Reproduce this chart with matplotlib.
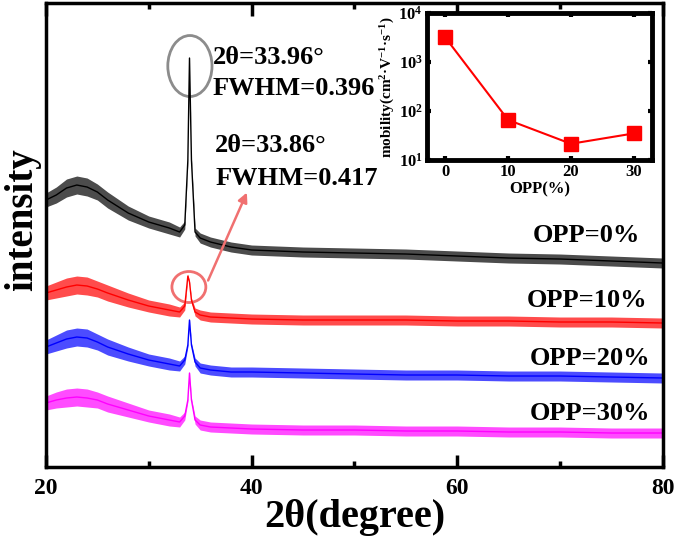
import matplotlib
matplotlib.use("Agg")
import matplotlib.pyplot as plt
from matplotlib.patches import Ellipse
from matplotlib.ticker import FixedLocator, FixedFormatter, NullLocator, NullFormatter
import numpy as np

plt.rcParams['font.family'] = ['Liberation Serif', 'DejaVu Serif']
plt.rcParams['font.weight'] = 'bold'
plt.rcParams['mathtext.fontset'] = 'custom'
plt.rcParams['mathtext.rm'] = 'Liberation Serif:bold'
plt.rcParams['mathtext.bf'] = 'Liberation Serif:bold'
plt.rcParams['mathtext.it'] = 'Liberation Serif:bold:italic'

# ---------------- data ----------------
two_theta = [20, 21, 22, 23, 24, 25, 26, 28, 30, 32, 33, 33.5, 33.8, 33.96, 34.15,
             34.5, 35, 36, 38, 40, 45, 50, 55, 60, 65, 70, 75, 80]
opp0 = [267, 272, 279, 282, 280, 275, 267, 254, 245, 239, 235, 242, 307, 409, 307,
        235, 229, 225, 220, 217, 215, 214, 213, 211, 209, 208, 206, 204]
opp10 = [174, 177, 180, 182, 181, 178, 174, 167, 161, 157, 155, 161, 191, 185, 167,
         155, 152, 150, 149, 148, 147, 147, 147, 146, 146, 145, 145, 144]
opp20 = [120, 124, 128, 130, 129, 125, 120, 113, 107, 103, 101, 107, 122, 147, 122,
         105, 99, 97, 95, 95, 94, 93, 92, 92, 91, 91, 90, 89]
opp30 = [64, 67, 69, 70, 69, 67, 63, 57, 51, 47, 45, 51, 67, 94, 67,
         47, 42, 40, 39, 38, 37, 37, 36, 36, 35, 35, 34, 34]
noise_half_width = [7, 8, 9, 9, 9, 8, 8, 7, 6, 6, 5, 4, 2, 1, 2,
                    4, 5, 5, 5, 5, 5, 5, 5, 5, 5, 5, 5, 5]
series_labels = ['OPP=0%', 'OPP=10%', 'OPP=20%', 'OPP=30%']
series_colors = ['black', '#ff0000', '#0000ff', '#ff00ff']

opp_percent = [0, 10, 20, 30]
mobility = [3200, 66, 21.5, 35]

x_ticks = [20, 40, 60, 80]

# ---------------- figure ----------------
fig = plt.figure(figsize=(6.75, 5.5), dpi=100)
ax = fig.add_axes([0.0681, 0.1509, 0.9139, 0.8436])

X = np.array(two_theta)
W = np.array(noise_half_width)
for vals, col in zip([opp0, opp10, opp20, opp30], series_colors):
    v = np.array(vals)
    ax.fill_between(X, v - W, v + W, color=col, alpha=0.7, lw=0)
    ax.plot(X, v, color=col, lw=1.0)

ax.set_xlim(20, 80)
ax.set_ylim(0, 464)
ax.xaxis.set_major_locator(FixedLocator(x_ticks))
ax.xaxis.set_minor_locator(FixedLocator([30, 50, 70]))
ax.yaxis.set_major_locator(NullLocator())
ax.tick_params(axis='x', which='major', direction='in', length=9, width=2.5,
               top=True, labelsize=17, pad=8)
ax.tick_params(axis='x', which='minor', direction='in', length=4, width=2.5, top=True)
for lab in ax.get_xticklabels():
    lab.set_fontweight('bold')
for s in ax.spines.values():
    s.set_linewidth(2.5)
ax.set_xlabel('2θ(degree)', fontsize=29, fontweight='bold', labelpad=0)
ax.set_ylabel('intensity', fontsize=28, fontweight='bold')
ax.yaxis.set_label_coords(-0.008, 0.534)

# annotations
ax.add_patch(Ellipse((34.0, 401), 4.3, 61, fill=False, ec='#8c8c8c', lw=2))
ax.add_patch(Ellipse((33.9, 180), 3.3, 31, fill=False, ec='#f07070', lw=2))
ax.annotate('', xy=(39.65, 277), xytext=(35.66, 184),
            arrowprops=dict(arrowstyle='-|>', color='#f07070', lw=1.8,
                            mutation_scale=14))
ax.text(36.25, 410, '2θ=33.96°', fontsize=19, fontweight='bold', va='center', ha='left')
ax.text(36.25, 379, 'FWHM=0.396', fontsize=19, fontweight='bold', va='center', ha='left')
ax.text(36.45, 322, '2θ=33.86°', fontsize=19, fontweight='bold', va='center', ha='left')
ax.text(36.45, 289, 'FWHM=0.417', fontsize=19, fontweight='bold', va='center', ha='left')

label_pos = [(77.8, 232), (78.5, 167), (78.8, 109), (78.8, 54)]
for lab, (lx, ly) in zip(series_labels, label_pos):
    ax.text(lx, ly, lab, fontsize=19, fontweight='bold', ha='right', va='center')

# ---------------- inset ----------------
ins = fig.add_axes([0.6326, 0.709, 0.3334, 0.267])
ins.plot(opp_percent, mobility, color='#ff0000', lw=1.5, marker='s', ms=10,
         mfc='#ff0000', mec='#ff0000')
ins.set_yscale('log')
ins.set_xlim(-2.9, 32.9)
ins.set_ylim(10, 1e4)
ins.xaxis.set_major_locator(FixedLocator(opp_percent))
ins.yaxis.set_major_locator(FixedLocator([10, 100, 1000, 10000]))
ins.yaxis.set_major_formatter(FixedFormatter([r'$\mathbf{10^{1}}$', r'$\mathbf{10^{2}}$',
                                              r'$\mathbf{10^{3}}$', r'$\mathbf{10^{4}}$']))
ins.yaxis.set_minor_locator(NullLocator())
ins.yaxis.set_minor_formatter(NullFormatter())
ins.tick_params(which='major', direction='in', length=3, width=3, top=True, right=True,
                labelsize=12, pad=3)
for lab in ins.get_xticklabels():
    lab.set_fontweight('bold')
for s in ins.spines.values():
    s.set_linewidth(3.5)
ins.set_xlabel('OPP(%)', fontsize=12, fontweight='bold', labelpad=1)
ins.set_ylabel(r'mobility(cm$^{\mathbf{2}}$·V$^{\mathbf{-1}}$·s$^{\mathbf{-1}}$)',
               fontsize=11, fontweight='bold', labelpad=1)

fig.savefig('out.png', dpi=100)
